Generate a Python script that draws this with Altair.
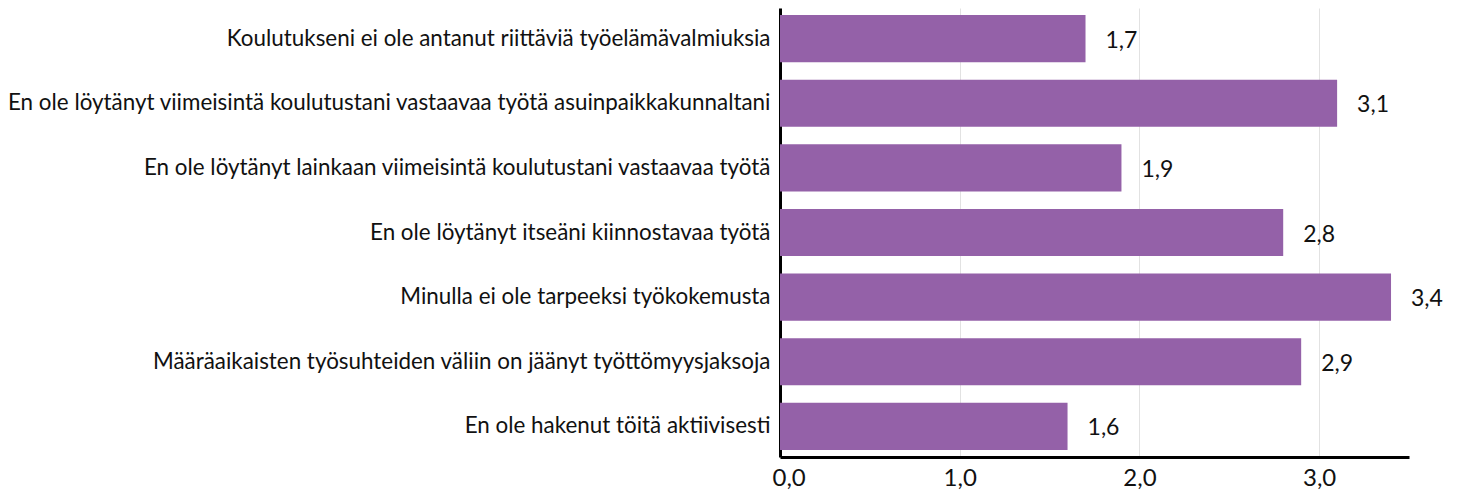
import altair as alt
import pandas as pd

categories = [
    "Koulutukseni ei ole antanut riittäviä työelämävalmiuksia",
    "En ole löytänyt viimeisintä koulutustani vastaavaa työtä asuinpaikkakunnaltani",
    "En ole löytänyt lainkaan viimeisintä koulutustani vastaavaa työtä",
    "En ole löytänyt itseäni kiinnostavaa työtä",
    "Minulla ei ole tarpeeksi työkokemusta",
    "Määräaikaisten työsuhteiden väliin on jäänyt työttömyysjaksoja",
    "En ole hakenut töitä aktiivisesti",
]
values = [1.7, 3.1, 1.9, 2.8, 3.4, 2.9, 1.6]
x_ticks = [0, 1, 2, 3]

df = pd.DataFrame({"kategoria": categories, "arvo": values})
df["teksti"] = [f"{v:.1f}".replace(".", ",") for v in values]

FONT = "Lato"
BAR = "#9461a8"

y_enc = alt.Y(
    "kategoria:N",
    sort=categories,
    title=None,
    scale=alt.Scale(paddingInner=0.27, paddingOuter=0.11),
    axis=alt.Axis(
        labelFontSize=22.4,
        labelColor="#111111",
        labelFont=FONT,
        labelPadding=10,
        labelLimit=1000,
        ticks=False,
        domain=True,
        domainColor="#000000",
        domainWidth=3,
        grid=False,
    ),
)

x_enc = alt.X(
    "arvo:Q",
    title=None,
    scale=alt.Scale(domain=[0, 3.5], nice=False),
    axis=alt.Axis(
        values=x_ticks,
        labelExpr="replace(format(datum.value, '.1f'), '.', ',')",
        labelFontSize=24,
        labelFont=FONT,
        labelColor="#111111",
        labelPadding=9,
        labelFlush=True,
        labelFlushOffset=8,
        ticks=False,
        domain=True,
        domainColor="#000000",
        domainWidth=3,
        grid=True,
        gridColor="#e2e2e2",
        gridWidth=1,
    ),
)

bars = alt.Chart(df).mark_bar(color=BAR).encode(x=x_enc, y=y_enc)

text = alt.Chart(df).mark_text(
    align="left", baseline="middle", dx=20, dy=2, fontSize=23, font=FONT, color="#111111"
).encode(x="arvo:Q", y=alt.Y("kategoria:N", sort=categories), text="teksti:N")

chart = (
    alt.layer(bars, text)
    .properties(
        width=629,
        height=449,
        autosize=alt.AutoSizeParams(type="none"),
        padding={"left": 772, "top": 0, "right": 40, "bottom": 34},
    )
    .configure_view(stroke=None)
)

chart.save("out.html", embed_options={"renderer": "svg", "actions": False})
